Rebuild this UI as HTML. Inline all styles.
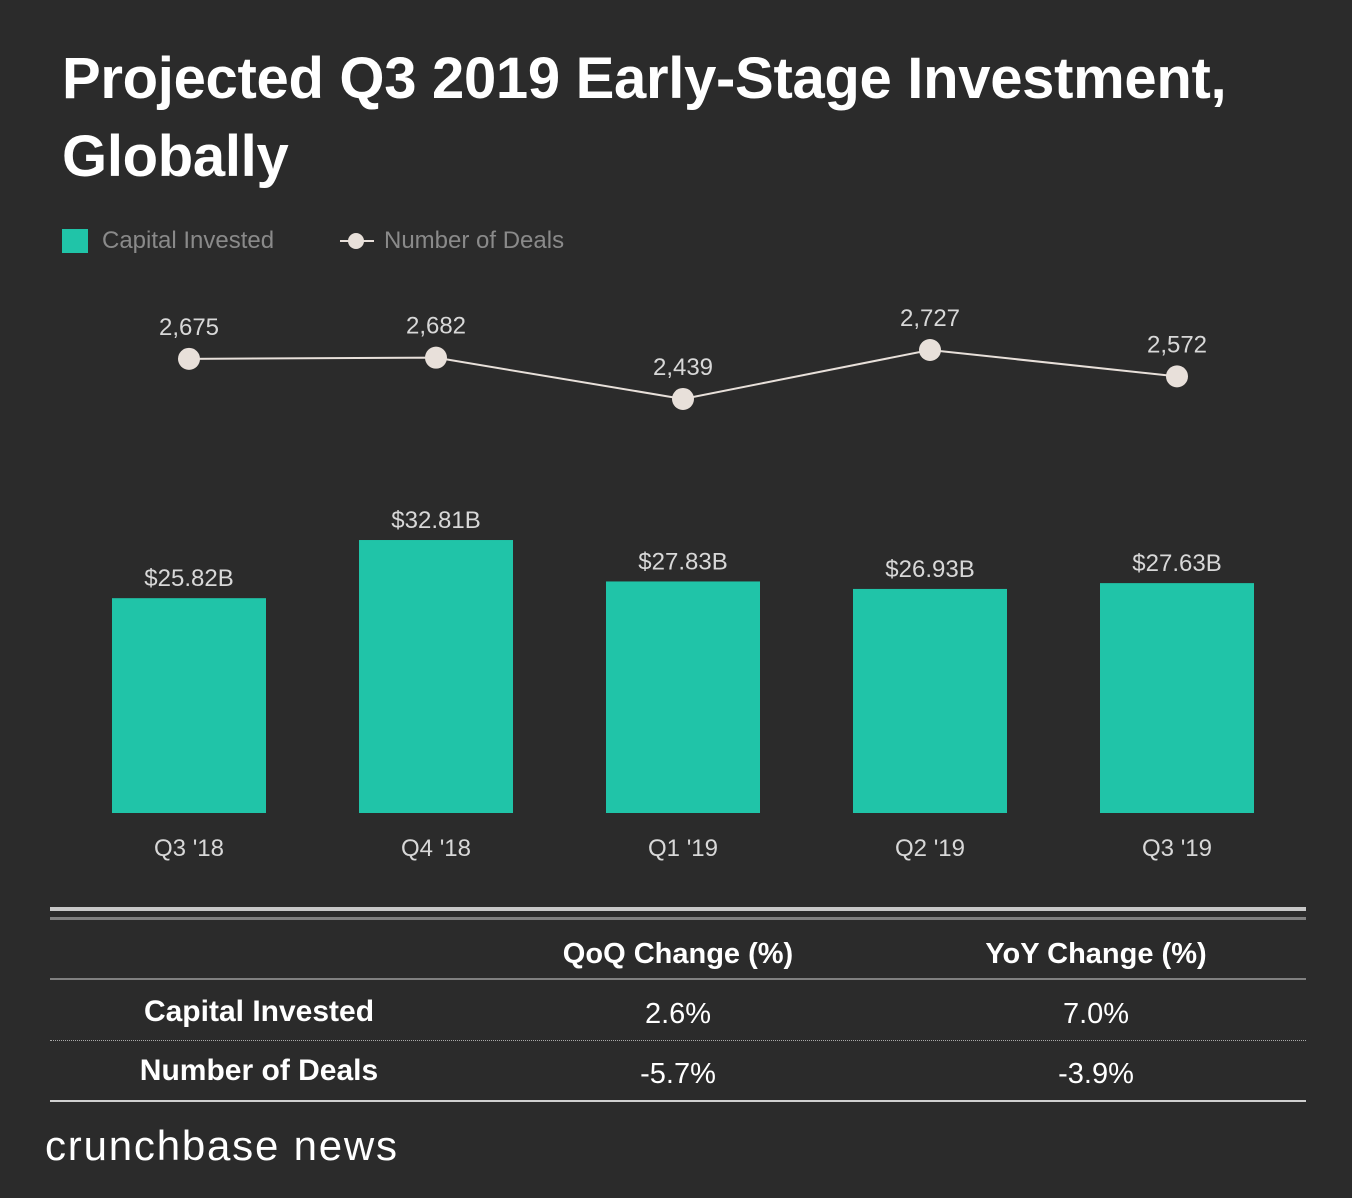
<!DOCTYPE html>
<html><head><meta charset="utf-8">
<style>
body{margin:0;background:#2b2b2b;}
#wrap{position:relative;width:1352px;height:1198px;background:#2b2b2b;font-family:"Liberation Sans",sans-serif;overflow:hidden;}
.t{position:absolute;white-space:nowrap;}
</style></head><body>
<div id="wrap">
<div class="t" style="left:62px;top:40px;font-size:58px;font-weight:bold;color:#fff;line-height:78px;letter-spacing:-0.3px;">Projected Q3 2019 Early-Stage Investment,<br>Globally</div>
<div style="position:absolute;left:62px;top:229px;width:26px;height:24px;background:#20c4a8;"></div>
<div class="t" style="left:102px;top:227px;font-size:24px;color:#8a8a8a;">Capital Invested</div>
<svg style="position:absolute;left:340px;top:230px" width="34" height="22"><line x1="0" y1="11" x2="34" y2="11" stroke="#e8e0da" stroke-width="2"/><circle cx="16" cy="11" r="8" fill="#e8e0da"/></svg>
<div class="t" style="left:384px;top:227px;font-size:24px;color:#8a8a8a;">Number of Deals</div>
<svg id="chart" style="position:absolute;left:0;top:0" width="1352" height="880"></svg>
<div style="position:absolute;left:50px;top:907px;width:1256px;height:4px;background:#c8c8c8;"></div>
<div style="position:absolute;left:50px;top:917px;width:1256px;height:3px;background:#808080;"></div>
<div class="t" style="left:678px;transform:translateX(-50%);top:938px;font-size:29px;font-weight:bold;color:#fff;">QoQ Change (%)</div>
<div class="t" style="left:1096px;transform:translateX(-50%);top:938px;font-size:29px;font-weight:bold;color:#fff;">YoY Change (%)</div>
<div style="position:absolute;left:50px;top:978px;width:1256px;height:2px;background:#808080;"></div>
<div class="t" style="left:259px;transform:translateX(-50%);top:995px;font-size:30px;font-weight:bold;color:#fff;">Capital Invested</div>
<div class="t" style="left:678px;transform:translateX(-50%);top:998px;font-size:29px;color:#fff;">2.6%</div>
<div class="t" style="left:1096px;transform:translateX(-50%);top:998px;font-size:29px;color:#fff;">7.0%</div>
<div style="position:absolute;left:50px;top:1040px;width:1256px;border-top:1px dotted #aaa;"></div>
<div class="t" style="left:259px;transform:translateX(-50%);top:1054px;font-size:30px;font-weight:bold;color:#fff;">Number of Deals</div>
<div class="t" style="left:678px;transform:translateX(-50%);top:1058px;font-size:29px;color:#fff;">-5.7%</div>
<div class="t" style="left:1096px;transform:translateX(-50%);top:1058px;font-size:29px;color:#fff;">-3.9%</div>
<div style="position:absolute;left:50px;top:1100px;width:1256px;height:2px;background:#d0d0d0;"></div>
<div class="t" style="left:45px;top:1122px;font-size:42px;color:#fff;letter-spacing:1.8px;">crunchbase news</div>
</div>
<script>
const categories=["Q3 '18","Q4 '18","Q1 '19","Q2 '19","Q3 '19"];
const capital=[25.82,32.81,27.83,26.93,27.63];
const capitalLabels=["$25.82B","$32.81B","$27.83B","$26.93B","$27.63B"];
const deals=[2675,2682,2439,2727,2572];
const dealLabels=["2,675","2,682","2,439","2,727","2,572"];
const NS="http://www.w3.org/2000/svg";
const svg=document.getElementById('chart');
const base=813;
const x=i=>189+i*247;
const yb=v=>base-v*8.32;
const yl=v=>813.6-v*0.17;
function mk(tag,attrs){const e=document.createElementNS(NS,tag);for(const k in attrs)e.setAttribute(k,attrs[k]);svg.appendChild(e);return e;}
categories.forEach((c,i)=>{
  const r=mk('rect',{x:x(i)-77,y:yb(capital[i]),width:154,height:base-yb(capital[i]),fill:'#20c4a8'});
  
  
  const t=mk('text',{x:x(i),y:yb(capital[i])-12,'text-anchor':'middle','font-size':24,fill:'#d8d8d8','font-family':'Liberation Sans, sans-serif'});
  t.textContent=capitalLabels[i];
  
  
  const a=mk('text',{x:x(i),y:856,'text-anchor':'middle','font-size':24,fill:'#d8d8d8','font-family':'Liberation Sans, sans-serif'});
  a.textContent=c;
  
  
});
const pl=mk('polyline',{points:deals.map((d,i)=>x(i)+','+yl(d)).join(' '),fill:'none',stroke:'#e8e0da','stroke-width':2});


deals.forEach((d,i)=>{
  const c=mk('circle',{cx:x(i),cy:yl(d),r:11,fill:'#e8e0da'});
  
  
  const t=mk('text',{x:x(i),y:yl(d)-24,'text-anchor':'middle','font-size':24,fill:'#d8d8d8','font-family':'Liberation Sans, sans-serif'});
  t.textContent=dealLabels[i];
  
  
});
</script>
</body></html>
